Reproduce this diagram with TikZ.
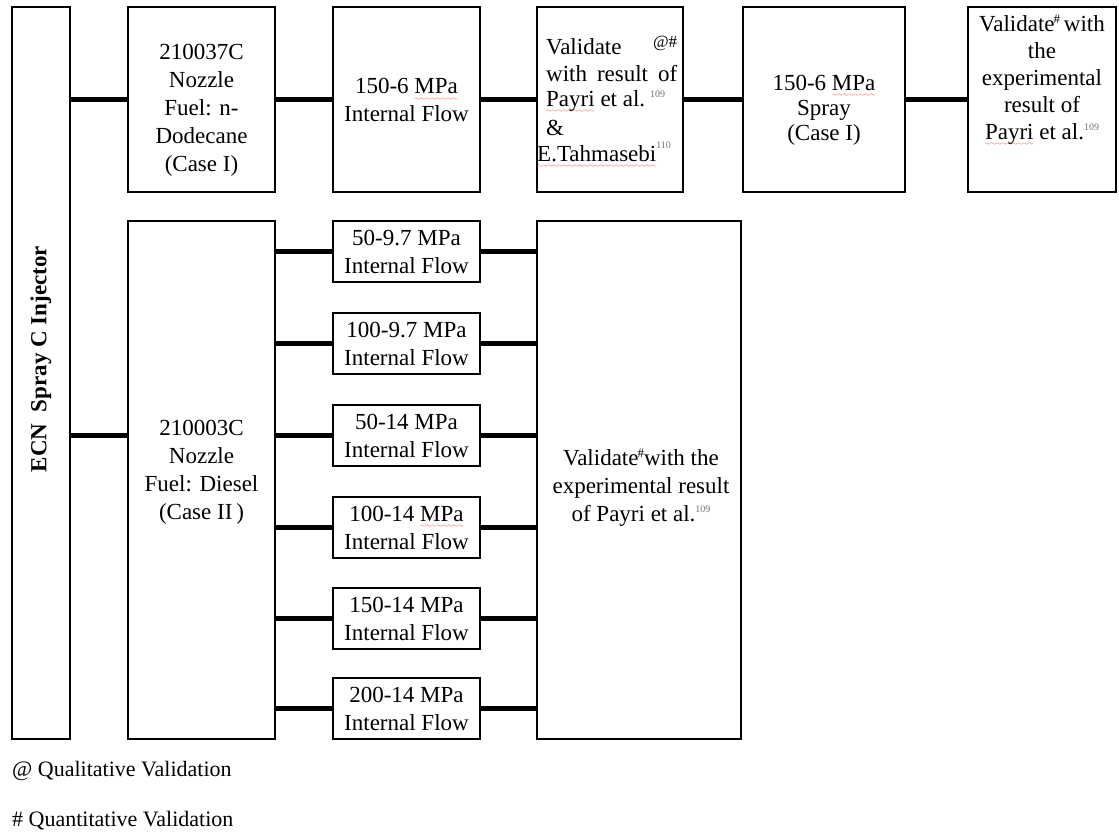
\documentclass[tikz,border=0pt]{standalone}
\usepackage{fontspec}
\setmainfont{Liberation Serif}
\font\mywavefont=lasy6
\newsavebox\wavebox
\newcommand\redwave[1]{\sbox\wavebox{#1}\rlap{\color{red}\lower6.5pt\hbox to\wd\wavebox{\xleaders\hbox{\mywavefont\char58}\hfill}}\usebox\wavebox}
\newcommand\supmark[1]{\raisebox{8pt}{\fontsize{13}{13}\selectfont #1}}
\newcommand\refnum[1]{\raisebox{9pt}{\fontsize{10}{10}\selectfont\color{black!55}#1}}
\begin{document}
\begin{tikzpicture}[x=1pt,y=-1pt,
  box/.style={draw, line width=1.6pt, inner sep=0pt},
  conn/.style={line width=5pt},
  txt/.style={align=center, font=\fontsize{23}{28}\selectfont, inner sep=0pt},
  legend/.style={anchor=west, inner sep=0pt, font=\fontsize{22}{24}\selectfont},
]
\fill[white] (0,0) rectangle (1119,833);
\useasboundingbox (0,0) rectangle (1119,833);

% ---- boxes ----
\node[box, minimum width=58pt, minimum height=732pt] (ecn) at (41,373) {};
\node[box, minimum width=147pt, minimum height=185pt] (c2top) at (201.5,99.5) {};
\node[box, minimum width=147pt, minimum height=185pt] (c3top) at (406.5,99.5) {};
\node[box, minimum width=146pt, minimum height=185pt] (v1) at (610,99.5) {};
\node[box, minimum width=162pt, minimum height=185pt] (spray) at (824,99.5) {};
\node[box, minimum width=148pt, minimum height=185pt] (fin) at (1042,99.5) {};
\node[box, minimum width=147pt, minimum height=518pt] (c2low) at (201.5,480) {};
\node[box, minimum width=204pt, minimum height=518pt] (bigv) at (639,480) {};

\foreach \n/\yc/\txt in {
  sb1/251.5/{50-9.7 MPa},
  sb2/343.5/{100-9.7 MPa},
  sb3/435.5/{50-14 MPa},
  sb4/527.5/{100-14 \redwave{MPa}},
  sb5/618.5/{150-14 MPa},
  sb6/708.5/{200-14 MPa}}{
  \node[box, minimum width=147pt, minimum height=61pt, txt] (\n) at (406.5,\yc) {\txt\\Internal Flow};
}

% ---- texts ----
\node[txt, rotate=90, font=\fontsize{23}{28}\selectfont\bfseries] (tecn) at (41,359) {ECN\ \ Spray C Injector};
\node[txt] (tc2top) at (201.5,110) {210037C\\Nozzle\\Fuel: n-\\Dodecane\\(Case I)};
\node[txt] (tc3top) at (406.5,100) {150-6 \redwave{MPa}\\Internal Flow};
\node[txt, align=left, anchor=west] (tv1) at (546,102) {%
  \makebox[131pt][l]{Validate\hfill\raisebox{7pt}{\fontsize{17}{17}\selectfont @\#}}\\[-1pt]
  \makebox[131pt][s]{with result of}\\[-3pt]
  \redwave{Payri} et al.\hspace{5pt}\refnum{109}\\[1pt]
  \&\\[-2pt]
  \hspace*{-9pt}\redwave{E.Tahmasebi}\raisebox{13pt}{\fontsize{10}{10}\selectfont\color{black!55}110}};
\node[txt, font=\fontsize{23}{25}\selectfont] (tspray) at (824,110) {150-6 \redwave{MPa}\\Spray\\(Case I)};
\node[txt, font=\fontsize{23}{27}\selectfont] (tfin) at (1042,80) {Validate\kern-1pt\supmark{\#}\,with\\the\\experimental\\result of\\\redwave{Payri} et al.\refnum{109}};
\node[txt] (tc2low) at (201.5,472) {210003C\\Nozzle\\Fuel: Diesel\\(Case II\,)};
\node[txt] (tbigv) at (641,488) {Validate\kern-1pt\supmark{\#}with the\\experimental result\\of Payri et al.\refnum{109}};

% ---- legend ----
\node[legend] (lg1) at (12,771) {@ Qualitative Validation};
\node[legend] (lg2) at (12,821) {\# Quantitative Validation};

% ---- connectors ----
\draw[conn] (ecn.east |- c2top.west) -- (c2top.west);
\draw[conn] (c2top.east) -- (c3top.west);
\draw[conn] (c3top.east) -- (v1.west);
\draw[conn] (v1.east) -- (spray.west);
\draw[conn] (spray.east) -- (fin.west);
\draw[conn] (ecn.east |- sb3.west) -- (c2low.west |- sb3.west);
\foreach \n in {sb1,sb2,sb3,sb4,sb5,sb6}{
  \draw[conn] (c2low.east |- \n.west) -- (\n.west);
  \draw[conn] (\n.east) -- (bigv.west |- \n.east);
}
\end{tikzpicture}
\end{document}
